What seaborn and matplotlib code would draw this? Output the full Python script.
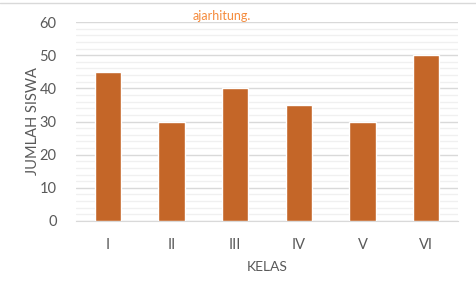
import matplotlib
matplotlib.use("Agg")
import matplotlib.pyplot as plt
from matplotlib.ticker import MultipleLocator
from matplotlib.lines import Line2D
import seaborn as sns
import pandas as pd

kelas = ["I", "II", "III", "IV", "V", "VI"]
jumlah = [45, 30, 40, 35, 30, 50]

sns.set_style("white")
plt.rcParams['font.family'] = ['Lato', 'DejaVu Sans']

df = pd.DataFrame({"KELAS": kelas, "JUMLAH SISWA": jumlah})

fig = plt.figure(figsize=(4.77, 2.91), dpi=100)
ax = fig.add_axes([76/477, 1-221/291, (458-76)/477, (221-22)/291])

sns.barplot(data=df, x="KELAS", y="JUMLAH SISWA", color="#C46628",
            saturation=1, width=0.41, ax=ax, zorder=3)

ax.set_ylim(0, 60)
ax.set_xlim(-0.5, 5.5)
ax.yaxis.set_major_locator(MultipleLocator(10))
ax.yaxis.set_minor_locator(MultipleLocator(2))
ax.grid(which="major", axis="y", color="#D9D9D9", linewidth=1, zorder=0)
ax.grid(which="minor", axis="y", color="#F0F0F0", linewidth=1, zorder=0)
ax.set_axisbelow(True)
for s in ["top", "right", "left"]:
    ax.spines[s].set_visible(False)
ax.spines["bottom"].set_color("#D9D9D9")
ax.tick_params(axis="both", which="both", length=0, colors="#595959", labelsize=10.5)
ax.tick_params(axis="y", pad=14)
ax.tick_params(axis="x", pad=12)
ax.set_xlabel("KELAS", fontsize=10, color="#595959")
ax.set_ylabel("JUMLAH SISWA", fontsize=10.5, color="#595959")
ax.xaxis.set_label_coords(191/382, (221-267)/199)
ax.xaxis.label.set_va("center")
ax.yaxis.set_label_coords((33-76)/382, 0.5)
ax.yaxis.label.set_va("center")

fig.text(193/477, 1-16/291, "ajarhitung.", color="#F58B3C", fontsize=9, va="center", ha="left")
fig.add_artist(Line2D([0, 1], [1-3/291, 1-3/291], color="#D9D9D9", linewidth=1))

fig.savefig("out.png", dpi=100)
